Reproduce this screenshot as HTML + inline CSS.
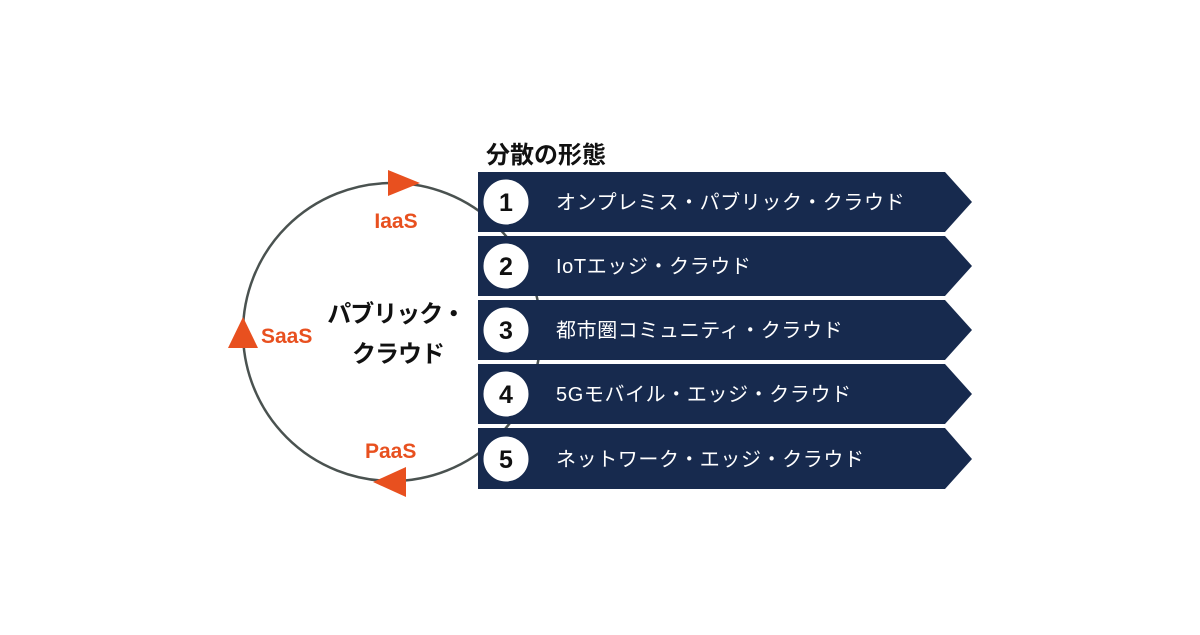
<!DOCTYPE html>
<html><head><meta charset="utf-8"><style>
body{margin:0;width:1200px;height:630px;background:#fff;overflow:hidden}
svg text{font-family:"Liberation Sans","Noto Sans CJK JP",sans-serif}
</style></head><body>
<svg width="1200" height="630" viewBox="0 0 1200 630">
<circle cx="392" cy="332" r="149" fill="none" stroke="#4a5250" stroke-width="2.5"/>
<g fill="#172a4e">
<polygon points="478,172 945,172 972,202 945,232 478,232"/>
<polygon points="478,236 945,236 972,266 945,296 478,296"/>
<polygon points="478,300 945,300 972,330 945,360 478,360"/>
<polygon points="478,364 945,364 972,394 945,424 478,424"/>
<polygon points="478,428 945,428 972,459 945,489 478,489"/>
</g>
<g fill="#fff" stroke="#172a4e" stroke-width="1">
<circle cx="506" cy="202" r="23"/><circle cx="506" cy="266" r="23"/><circle cx="506" cy="330" r="23"/><circle cx="506" cy="394" r="23"/><circle cx="506" cy="459" r="23"/>
</g>
<g font-size="25" font-weight="bold" fill="#111" text-anchor="middle">
<text x="506" y="211">1</text><text x="506" y="275">2</text><text x="506" y="339">3</text><text x="506" y="403">4</text><text x="506" y="468">5</text>
</g>
<g font-size="20" fill="#fff" letter-spacing="0.6">
<text x="556" y="209">オンプレミス・パブリック・クラウド</text>
<text x="556" y="273">IoTエッジ・クラウド</text>
<text x="556" y="337">都市圏コミュニティ・クラウド</text>
<text x="556" y="401">5Gモバイル・エッジ・クラウド</text>
<text x="556" y="466">ネットワーク・エッジ・クラウド</text>
</g>
<text x="486" y="163" font-size="24" font-weight="bold" fill="#111">分散の形態</text>
<g fill="#e8501f">
<polygon points="388,170 420,183 388,196"/>
<polygon points="243,317 258,348 228,348"/>
<polygon points="406,467 373,482 406,497"/>
</g>
<g font-size="21" font-weight="bold" fill="#e8501f">
<text x="396" y="228" text-anchor="middle">IaaS</text>
<text x="261" y="343">SaaS</text>
<text x="365" y="458">PaaS</text>
</g>
<g font-size="24" font-weight="bold" fill="#111" text-anchor="middle" letter-spacing="-1">
<text x="396" y="322">パブリック・</text>
<text x="398" y="362">クラウド</text>
</g>
</svg>
</body></html>
